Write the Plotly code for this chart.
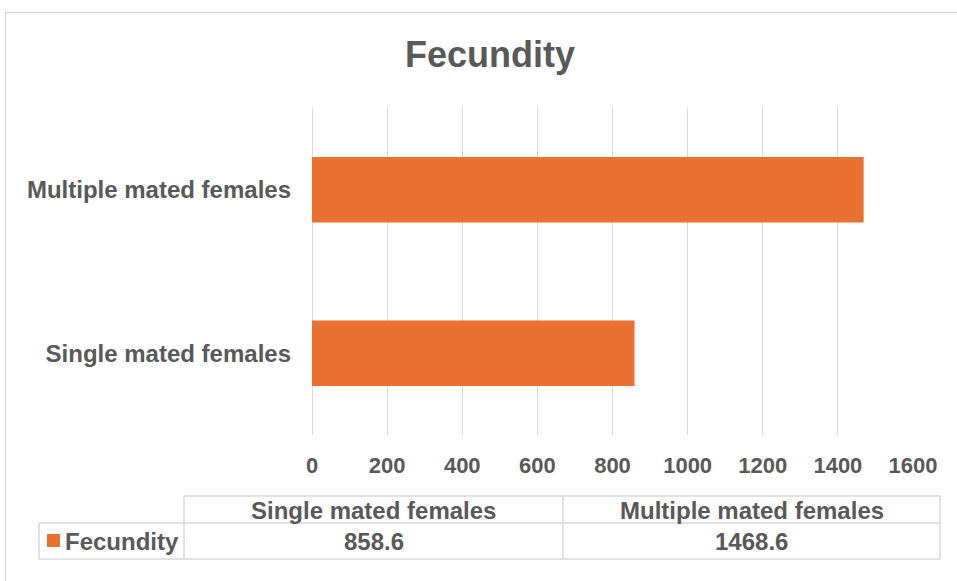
import plotly.graph_objects as go

# ---- data ----
categories = ["Single mated females", "Multiple mated females"]
fecundity = [858.6, 1468.6]
series_name = "Fecundity"
x_ticks = [0, 200, 400, 600, 800, 1000, 1200, 1400, 1600]

TEXT = "#595959"
GRID = "#d9d9d9"
BAR = "#E97132"
FONT = "Liberation Sans, Arial, sans-serif"

W, H = 957, 581
L, R, T, B = 312, 44, 108, 146
PW, PH = W - L - R, H - T - B


def px(x):
    return (x - L) / PW


def py(y):
    return (H - B - y) / PH


fig = go.Figure()
fig.add_trace(go.Bar(
    y=categories, x=fecundity, orientation="h", name=series_name,
    marker=dict(color=BAR, line=dict(width=0)),
))

shapes = []
annotations = []

# outer chart border
shapes.append(dict(type="rect", xref="paper", yref="paper",
                   x0=px(5.5), x1=px(965), y0=py(12.5), y1=py(590),
                   line=dict(color=GRID, width=1.3), layer="below"))

# data table geometry (pixels)
leg_l, col1_l, col2_l, tab_r = 39, 184, 563, 940
head_t, row_t, row_b = 496, 523, 559
col_edges = [(col1_l, col2_l), (col2_l, tab_r)]

line = dict(color=GRID, width=1.5)
shapes.append(dict(type="line", xref="paper", yref="paper", x0=px(col1_l), x1=px(tab_r), y0=py(head_t), y1=py(head_t), line=line))
shapes.append(dict(type="line", xref="paper", yref="paper", x0=px(leg_l), x1=px(tab_r), y0=py(row_t), y1=py(row_t), line=line))
shapes.append(dict(type="line", xref="paper", yref="paper", x0=px(leg_l), x1=px(tab_r), y0=py(row_b), y1=py(row_b), line=line))
for xv, top in [(leg_l, row_t), (col1_l, head_t), (col2_l, head_t), (tab_r, head_t)]:
    shapes.append(dict(type="line", xref="paper", yref="paper", x0=px(xv), x1=px(xv), y0=py(top), y1=py(row_b), line=line))

# legend key square
shapes.append(dict(type="rect", xref="paper", yref="paper", x0=px(47), x1=px(60), y0=py(534), y1=py(547),
                   fillcolor=BAR, line=dict(width=0)))

tfont = dict(family=FONT, size=24, color=TEXT)
for (c0, c1), cat, val in zip(col_edges, categories, fecundity):
    annotations.append(dict(xref="paper", yref="paper", x=px((c0 + c1) / 2), y=py(510),
                            text="<b>%s</b>" % cat, showarrow=False, font=tfont,
                            xanchor="center", yanchor="middle"))
    annotations.append(dict(xref="paper", yref="paper", x=px((c0 + c1) / 2), y=py(541),
                            text="<b>%s</b>" % val, showarrow=False, font=tfont,
                            xanchor="center", yanchor="middle"))
annotations.append(dict(xref="paper", yref="paper", x=px(63), y=py(541),
                        text="<b>%s</b>" % series_name, showarrow=False, font=tfont,
                        xanchor="left", yanchor="middle"))

# title as annotation at exact position
annotations.append(dict(xref="paper", yref="paper", x=px(490), y=py(54),
                        text="<b>Fecundity</b>", showarrow=False,
                        font=dict(family=FONT, size=36, color=TEXT),
                        xanchor="center", yanchor="middle"))

fig.update_layout(
    width=W, height=H,
    margin=dict(l=L, r=R, t=T, b=B, autoexpand=False),
    paper_bgcolor="white", plot_bgcolor="white",
    showlegend=False,
    bargap=0.6,
    font=dict(family=FONT, color=TEXT),
    shapes=shapes,
    annotations=annotations,
)
fig.update_xaxes(
    range=[0, 1600], tickvals=x_ticks, ticktext=["<b>%d</b>" % t for t in x_ticks],
    showgrid=True, gridcolor=GRID, gridwidth=1.3,
    zeroline=True, zerolinecolor=GRID, zerolinewidth=1.3,
    showline=False, ticks="", ticklabelstandoff=15,
    tickfont=dict(family=FONT, size=22, color=TEXT), fixedrange=True,
)
fig.update_yaxes(
    ticktext=["<b>%s</b>" % c for c in categories], tickvals=categories,
    showgrid=False, showline=False, ticks="", ticklabelstandoff=20,
    tickfont=dict(family=FONT, size=24, color=TEXT), fixedrange=True,
)

fig.write_html("out.html", config={"displayModeBar": False},
               post_script="document.body.style.margin='0px';document.body.style.overflow='hidden';")
